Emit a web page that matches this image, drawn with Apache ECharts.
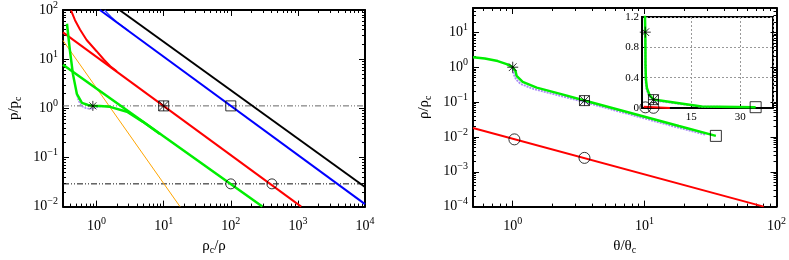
<!DOCTYPE html>
<html>
<head>
<meta charset="utf-8">
<script src="https://cdn.jsdelivr.net/npm/echarts@6/dist/echarts.min.js"></script>
<style>
  html, body { margin: 0; padding: 0; background: #fff; }
  #chart { width: 789px; height: 260px; }
</style>
</head>
<body>
<div id="chart"></div>
<script>
// ---- left panel: x = rho_c/rho, y = p/p_c ----
const lXMajor = [1, 10, 100, 1000, 10000];
const lYMajor = [0.01, 0.1, 1, 10, 100];
const lBlackX = [2.2, 10000], lBlackY = [100, 0.025];
const lBlueX = [1.12, 10000], lBlueY = [100, 0.0112];
const lBlue2X = [1.32, 1.45, 1.65, 2.0, 3.0], lBlue2Y = [100, 86, 72, 57, 37.5];
const lRedX = [0.316, 1120], lRedY = [35, 0.01];
const lRed2X = [0.416, 0.477, 0.566, 0.711, 1.0, 1.3, 1.6, 2.0];
const lRed2Y = [98, 62, 40, 24.5, 14.5, 9.6, 7.2, 5.65];
const lGreenX = [0.316, 295], lGreenY = [7.7, 0.01];
const lGreen2X = [0.362, 0.40, 0.445, 0.51, 0.605, 0.745, 0.88, 1.12, 1.58, 2.84, 4.9, 8.8];
const lGreen2Y = [52.5, 15.3, 4.9, 1.94, 1.29, 1.17, 1.12, 1.12, 1.07, 0.85, 0.53, 0.30];
const lVioletX = [0.5, 0.54, 0.6, 0.7, 0.82, 0.95, 1.1, 1.3];
const lVioletY = [2.1, 1.4, 1.1, 1.0, 0.98, 1.02, 1.08, 1.1];
const lOrangeX = [0.316, 17.5], lOrangeY = [24, 0.01];
const lHLineX = [0.316, 10000];
const lHLineY = [1.12, 0.029];
const lStar = [[0.88, 1.12]];
const lBoxX = [[10, 1.12]];
const lSquare = [[100, 1.12]];
const lCircle = [[100, 0.029], [410, 0.029]];

// ---- right panel: x = theta/theta_c, y = rho/rho_c ----
const rXMajor = [1, 10, 100];
const rYMajor = [0.0001, 0.001, 0.01, 0.1, 1, 10];
const rGreenX = [0.5, 0.615, 0.77, 0.9, 1.0, 1.05, 1.07, 1.19, 1.52, 2.26, 3.5, 18.2, 34.7];
const rGreenY = [1.94, 1.78, 1.5, 1.23, 1.0, 0.78, 0.565, 0.38, 0.26, 0.175, 0.111, 0.0206, 0.0107];
const rVioletX = [1.0, 1.02, 1.06, 1.15, 1.45, 2.2, 3.5, 18, 29];
const rVioletY = [0.9, 0.62, 0.45, 0.33, 0.235, 0.158, 0.1, 0.0185, 0.0115];
const rRedX = [0.5, 80], rRedY = [0.018, 0.0001];
const rStar = [[1.0, 1.0]];
const rBoxX = [[3.5, 0.11]];
const rSquare = [[34.7, 0.0107]];
const rCircle = [[1.03, 0.0085], [3.5, 0.0025]];

// ---- inset (linear axes): the red part that shows left of the green ----
const iRedX = [0.5, 8.5], iRedY = [0.018, 0.0011];
const iXTicks = [15, 30];

const FONT = 'Liberation Serif';
const GREEN = '#00ee00';
const VIOLET = '#a98af5';

function minorsOf(lo, hi) {
  const out = [];
  for (let d = lo; d < hi; d++) {
    for (let k = 2; k <= 9; k++) out.push(+(k * Math.pow(10, d)).toPrecision(3));
  }
  return out;
}

function powLabel(v) {
  const e = Math.round(Math.log10(v));
  return '{b|10}{e|' + (e < 0 ? '\u2212' + (-e) : e) + '}';
}

const supRich = {
  b: { fontFamily: FONT, fontSize: 14, color: '#000', lineHeight: 20 },
  e: { fontFamily: FONT, fontSize: 10, color: '#000', verticalAlign: 'top', lineHeight: 10 }
};
const nameRich = {
  a: { fontFamily: FONT, fontSize: 15, color: '#000', lineHeight: 18 },
  s: { fontFamily: FONT, fontSize: 10, color: '#000', verticalAlign: 'bottom', lineHeight: 10 }
};

function logAxes(dim, grid, min, max, majors, minors, name, nameGap) {
  const pos = dim === 'x' ? ['bottom', 'top'] : ['left', 'right'];
  const base = { type: 'log', logBase: 10, gridIndex: grid, min: min, max: max, splitLine: { show: false } };
  const line = { show: true, onZero: false, lineStyle: { color: '#000', width: 2 } };
  const tickMaj = { show: true, inside: true, length: 6, customValues: majors, lineStyle: { color: '#000', width: 1 } };
  const tickMin = { show: true, inside: true, length: 3, customValues: minors, lineStyle: { color: '#000', width: 1 } };
  return [
    Object.assign({}, base, {
      position: pos[0], name: name, nameLocation: 'middle', nameGap: nameGap,
      nameRotate: dim === 'y' ? 90 : 0, nameTextStyle: { rich: nameRich },
      axisLine: line, axisTick: tickMaj,
      axisLabel: { show: true, customValues: majors, formatter: powLabel, rich: supRich, margin: dim === 'x' ? 10 : 5 }
    }),
    Object.assign({}, base, { position: pos[0], axisLine: { show: false }, axisTick: tickMin, axisLabel: { show: false } }),
    Object.assign({}, base, { position: pos[1], axisLine: line, axisTick: tickMaj, axisLabel: { show: false } }),
    Object.assign({}, base, { position: pos[1], axisLine: { show: false }, axisTick: tickMin, axisLabel: { show: false } })
  ];
}

function pairs(xs, ys) { return xs.map((x, i) => [x, ys[i]]); }

function line(ax, xs, ys, color, width, type, z) {
  return {
    type: 'line', xAxisIndex: ax, yAxisIndex: ax, data: pairs(xs, ys),
    symbol: 'none', showSymbol: false, silent: true, z: z || 2,
    lineStyle: { color: color, width: width, type: type || 'solid' }
  };
}

const STAR = 'path://M5,0L5,10M0,5L10,5M1.5,1.5L8.5,8.5M1.5,8.5L8.5,1.5';
const BOXX = 'path://M0,0L10,0L10,10L0,10ZM0,0L10,10M0,10L10,0M5,0L5,10M0,5L10,5';

function marks(ax, data, symbol, size, z) {
  return {
    type: 'scatter', xAxisIndex: ax, yAxisIndex: ax, data: data, symbol: symbol, symbolSize: size,
    silent: true, z: z || 5,
    itemStyle: { color: 'rgba(0,0,0,0)', borderColor: '#000', borderWidth: 1 }
  };
}

const chart = echarts.init(document.getElementById('chart'), null, { renderer: 'canvas' });

const insetLine = { show: true, onZero: false, lineStyle: { color: '#000', width: 2 } };
const insetTick = { show: true, inside: true, length: 4, lineStyle: { color: '#000' } };
const insetSplit = { show: true, lineStyle: { color: '#999', type: [2, 2], width: 1 } };

const xAxes = [].concat(
  logAxes('x', 0, 0.316, 10000, lXMajor, minorsOf(-1, 4).filter(v => v > 0.316), '{a|ρ}{s|c}{a|/ρ}', 30),
  logAxes('x', 1, 0.5, 100, rXMajor, minorsOf(-1, 2).filter(v => v > 0.5), '{a|θ/θ}{s|c}', 30),
  [{
    type: 'value', gridIndex: 2, min: 0, max: 40, interval: 15, position: 'bottom', z: 3,
    axisLine: insetLine, axisTick: insetTick, splitLine: insetSplit,
    axisLabel: { customValues: iXTicks, fontFamily: FONT, fontSize: 11, color: '#000', margin: 4 }
  }]
);
const yAxes = [].concat(
  logAxes('y', 0, 0.01, 100, lYMajor, minorsOf(-2, 2), '{a|p/p}{s|c}', 40),
  logAxes('y', 1, 0.0001, 50, rYMajor, minorsOf(-4, 2).filter(v => v <= 50), '{a|ρ/ρ}{s|c}', 40),
  [{
    type: 'value', gridIndex: 2, min: 0, max: 1.2, interval: 0.4, position: 'left', z: 3,
    axisLine: insetLine, axisTick: insetTick, splitLine: insetSplit,
    axisLabel: { fontFamily: FONT, fontSize: 11, color: '#000', margin: 3 }
  }]
);

const HL = [6, 2, 1, 2, 1, 2];
const series = [
  // left
  line(0, lHLineX, [lHLineY[0], lHLineY[0]], '#666', 1, HL, 1),
  line(0, lHLineX, [lHLineY[1], lHLineY[1]], '#111', 1, HL, 1),
  line(0, lOrangeX, lOrangeY, '#ffa500', 1),
  line(0, lBlackX, lBlackY, '#000', 2),
  line(0, lBlue2X, lBlue2Y, '#3344ff', 1.5),
  line(0, lBlueX, lBlueY, '#0000ff', 2),
  line(0, lRed2X, lRed2Y, '#ff0000', 2),
  line(0, lRedX, lRedY, '#ff0000', 2),
  line(0, lVioletX, lVioletY, VIOLET, 1.5, [2, 1]),
  line(0, lGreenX, lGreenY, GREEN, 2.5),
  line(0, lGreen2X, lGreen2Y, GREEN, 2.5),
  marks(0, lStar, STAR, 10),
  marks(0, lBoxX, BOXX, 10),
  marks(0, lSquare, 'rect', 10),
  marks(0, lCircle, 'circle', 10),
  // right
  line(4, rRedX, rRedY, '#ff0000', 2),
  line(4, rVioletX, rVioletY, VIOLET, 2, [2, 1]),
  line(4, rGreenX, rGreenY, GREEN, 2.5),
  marks(4, rStar, STAR, 11),
  marks(4, rBoxX, BOXX, 10),
  marks(4, rSquare, 'rect', 11),
  marks(4, rCircle, 'circle', 11),
  // inset
  line(8, iRedX, iRedY, '#ff0000', 2, 'solid', 6),
  line(8, rVioletX, rVioletY, VIOLET, 2, [2, 1], 6),
  line(8, rGreenX, rGreenY, GREEN, 2.5, 'solid', 6),
  marks(8, rStar, STAR, 11, 8),
  marks(8, rBoxX, BOXX, 10, 8),
  marks(8, rSquare, 'rect', 11, 8),
  marks(8, rCircle, 'circle', 11, 8)
];

chart.setOption({
  animation: false,
  backgroundColor: '#fff',
  grid: [
    { left: 63, top: 9, width: 302, height: 201 },
    { left: 473, top: 8, width: 305, height: 202 },
    { left: 642, top: 17, width: 131, height: 91, show: true, backgroundColor: '#fff', borderColor: '#000', borderWidth: 2 }
  ],
  xAxis: xAxes,
  yAxis: yAxes,
  series: series
});
</script>
</body>
</html>
